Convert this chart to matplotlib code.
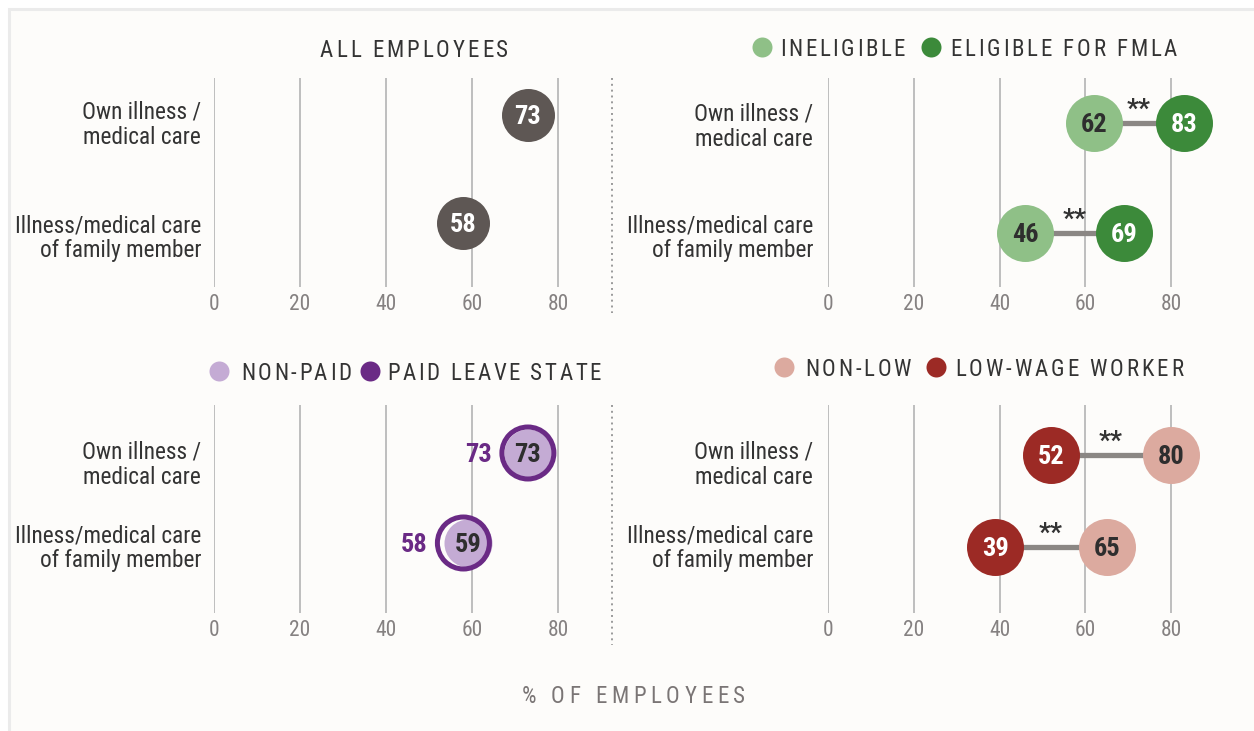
import matplotlib
matplotlib.use("Agg")
import matplotlib.pyplot as plt
from matplotlib import font_manager as fm
from matplotlib.patches import Rectangle
from pathlib import Path

W, H = 1254, 731

# ── Data ─────────────────────────────────────────────────────────────────────
categories = ["Own illness /\nmedical care", "Illness/medical care\nof family member"]
ticks = [0, 20, 40, 60, 80]

all_emp = [73, 58]
ineligible = [62, 46]
eligible_fmla = [83, 69]
non_paid = [73, 59]
paid_state = [73, 58]
non_low = [80, 65]
low_wage = [52, 39]
sig_fmla = ["**", "**"]
sig_wage = ["**", "**"]

# ── Colours ──────────────────────────────────────────────────────────────────
BG = "#fdfcfa"
FRAME = "#ebebeb"
TXT = "#333333"
TICK = "#858181"
GRID = "#b9b9b9"
LINK = "#8b8784"
GRAY = "#5e5754"
LGREEN, DGREEN = "#8fc087", "#3c8a3a"
LAV, PURPLE = "#c4abd4", "#6a2a85"
PINK, RED = "#dcaa9f", "#9c2a25"


# ── Fonts: use a condensed face when one is installed ───────────────────────
def find_font(patterns, family, weight):
    for pat in patterns:
        for f in fm.fontManager.ttflist:
            if pat in Path(f.fname).name.lower():
                return f.fname
    return fm.findfont(fm.FontProperties(family=family, weight=weight))


REG = find_font(["robotocondensed-regular", "liberationsansnarrow-regular",
                 "dejavusanscondensed.ttf"], "Roboto", "normal")
BOLD = find_font(["robotocondensed-bold.", "liberationsansnarrow-bold.",
                  "dejavusanscondensed-bold."], "Roboto", "bold")


def fp(fname, size):
    return fm.FontProperties(fname=fname, size=size)


def advances(s, fname, size):
    font = fm.get_font(fname)
    font.set_size(size, 100)
    return [font.load_char(ord(c)).linearHoriAdvance / 65536 for c in s]


# label size fitted so the longest line is as wide as in the reference
LAB_SIZE = min(16.8, 16 * 186 / sum(advances("Illness/medical care", REG, 16)))
NUM_SIZE = 19
CAP_SIZE = 16.5

fig = plt.figure(figsize=(W / 100, H / 100), dpi=100)
fig.patch.set_facecolor("white")

bg = fig.add_axes([0, 0, 1, 1])
bg.set_xlim(0, W)
bg.set_ylim(H, 0)
bg.axis("off")
bg.add_patch(Rectangle((9, 9), W + 50, H + 50, facecolor=BG, edgecolor=FRAME,
                       lw=2.2, zorder=0))


def tracked(s, x_left, x_right, y, color=TXT, size=CAP_SIZE, fname=REG):
    adv = advances(s, fname, size)
    gap = (x_right - x_left - sum(adv)) / (len(s) - 1)
    x = x_left
    for ch, a in zip(s, adv):
        bg.text(x + a / 2, y, ch, ha="center", va="center_baseline",
                color=color, fontproperties=fp(fname, size))
        x += a + gap


def legend_dot(x, y, color):
    bg.scatter([x], [y], s=(20 * 0.72) ** 2, color=color, lw=0, zorder=3)


XMAX = 93


def panel(x0, ppu, gtop, gbot, rows, label_y, label_right):
    ax = fig.add_axes([x0 / W, 1 - gbot / H, XMAX * ppu / W, (gbot - gtop) / H])
    ax.set_facecolor("none")
    sp = rows[1] - rows[0]
    ax.set_xlim(0, XMAX)
    ax.set_ylim((gbot - rows[0]) / sp, -(rows[0] - gtop) / sp)
    ax.set_xticks(ticks)
    ax.set_yticks([])
    ax.tick_params(axis="x", length=0, pad=5, labelcolor=TICK)
    for lab in ax.get_xticklabels():
        lab.set_fontproperties(fp(REG, 15.5))
    ax.grid(axis="x", color=GRID, lw=1.3)
    ax.set_axisbelow(True)
    for s in ax.spines.values():
        s.set_visible(False)
    # category labels
    for cat, ly in zip(categories, label_y):
        for k, line in enumerate(cat.split("\n")):
            bg.text(label_right, ly + k * 25.5, line, ha="right",
                    va="center_baseline", color=TXT,
                    fontproperties=fp(REG, LAB_SIZE))
    return ax


def dots(ax, vals, color, d_px, txt_color, z=3):
    ys = range(len(vals))
    ax.scatter(vals, ys, s=(d_px * 0.72) ** 2, color=color, lw=0,
               zorder=z, clip_on=False)
    for v, y in zip(vals, ys):
        ax.text(v, y, str(v), ha="center", va="center_baseline",
                color=txt_color, zorder=z + 1, fontproperties=fp(BOLD, NUM_SIZE))


def links(ax, a, b, stars):
    for i, (u, v, st) in enumerate(zip(a, b, stars)):
        ax.plot([u, v], [i, i], color=LINK, lw=3.8, solid_capstyle="butt",
                zorder=2)
        ax.annotate(st, xy=((u + v) / 2, i), xytext=(0, 11),
                    textcoords="offset points", ha="center",
                    va="center_baseline", color="#333333",
                    fontproperties=fp(BOLD, 19))


# ── Top-left: all employees ──────────────────────────────────────────────────
ax1 = panel(214, 4.30, 78, 287, [115, 223], [110, 223], 201)
dots(ax1, all_emp, GRAY, 53, "white")
tracked("ALL EMPLOYEES", 320, 508, 48)

# ── Top-right: FMLA eligibility ──────────────────────────────────────────────
ax2 = panel(828, 4.29, 78, 287, [123, 233], [111, 223], 813)
links(ax2, ineligible, eligible_fmla, sig_fmla)
dots(ax2, ineligible, LGREEN, 57, "#2e2e2e")
dots(ax2, eligible_fmla, DGREEN, 57, "white")
legend_dot(762, 47, LGREEN)
tracked("INELIGIBLE", 780, 905, 47)
legend_dot(931, 47, DGREEN)
tracked("ELIGIBLE FOR FMLA", 950, 1177, 47)

# ── Bottom-left: paid leave state ────────────────────────────────────────────
ax3 = panel(214, 4.30, 405, 613, [453, 543], [450, 533], 201)
ax3.scatter(paid_state, range(2), s=(52 * 0.72) ** 2, facecolor="none",
            edgecolor=PURPLE, lw=3.6, zorder=4, clip_on=False)
dots(ax3, non_paid, LAV, 48, "#2e2e2e", z=3)
for i, v in enumerate(paid_state):
    ax3.annotate(str(v), xy=(v, i), xytext=(-26, 0), textcoords="offset points",
                 ha="right", va="center_baseline", color=PURPLE,
                 fontproperties=fp(BOLD, NUM_SIZE))
legend_dot(219, 371, LAV)
tracked("NON-PAID", 241, 351, 371)
legend_dot(370, 371, PURPLE)
tracked("PAID LEAVE STATE", 387, 601, 371)

# ── Bottom-right: low-wage workers ───────────────────────────────────────────
ax4 = panel(828, 4.29, 405, 613, [455, 547], [450, 533], 813)
links(ax4, low_wage, non_low, sig_wage)
dots(ax4, non_low, PINK, 57, "#2e2e2e")
dots(ax4, low_wage, RED, 57, "white")
legend_dot(784, 367, PINK)
tracked("NON-LOW", 805, 911, 367)
legend_dot(936, 367, RED)
tracked("LOW-WAGE WORKER", 955, 1183, 367)

# ── Separators and axis title ────────────────────────────────────────────────
bg.plot([612, 612], [78, 313], color="#9a9a9a", lw=1.4, ls=(0, (1, 2)))
bg.plot([612, 612], [405, 645], color="#9a9a9a", lw=1.4, ls=(0, (1, 2)))
tracked("% OF EMPLOYEES", 522, 745, 694, color="#7a7575")

fig.savefig("out.png", dpi=100, facecolor="white")
